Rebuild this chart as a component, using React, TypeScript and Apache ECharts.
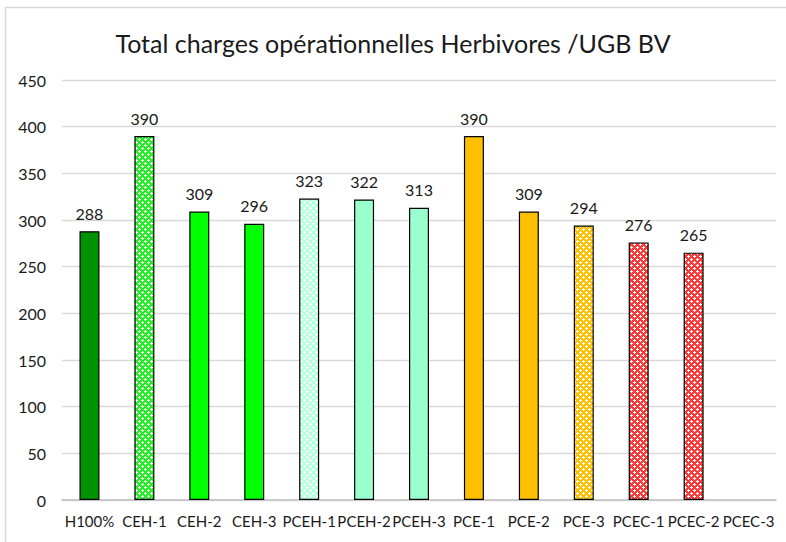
import React, { useEffect, useRef } from "react";
import * as echarts from "echarts";

const title = "Total charges opérationnelles Herbivores /UGB BV";
const categories = ["H100%", "CEH-1", "CEH-2", "CEH-3", "PCEH-1", "PCEH-2", "PCEH-3", "PCE-1", "PCE-2", "PCE-3", "PCEC-1", "PCEC-2", "PCEC-3"];
const values: (number | null)[] = [288, 390, 309, 296, 323, 322, 313, 390, 309, 294, 276, 265, null];
const barColors = ["#009300", "#22f022", "#00ff00", "#00ff00", "#b8ffdc", "#99ffcc", "#99ffcc", "#ffc000", "#ffc000", "#ffc000", "#ff3838", "#ff3838", "#ff3838"];
const patterned = [false, true, false, false, true, false, false, false, false, true, true, true, true];
const yTicks = { min: 0, max: 450, interval: 50 };

function makePattern(color: string) {
  const c = document.createElement("canvas");
  const s = 6;
  c.width = s;
  c.height = s;
  const ctx = c.getContext("2d")!;
  ctx.fillStyle = color;
  ctx.fillRect(0, 0, s, s);
  ctx.fillStyle = "#ffffff";
  const plus = (x: number, y: number) => {
    ctx.fillRect(x, y - 1, 1, 3);
    ctx.fillRect(x - 1, y, 3, 1);
  };
  plus(1, 1);
  plus(4, 4);
  plus(7, 1);
  plus(-2, 4);
  plus(1, 7);
  plus(4, -2);
  return { image: c, repeat: "repeat" as const };
}

export default function App() {
  const ref = useRef<HTMLDivElement>(null);
  useEffect(() => {
    document.body.style.margin = "0";
    const chart = echarts.init(ref.current!, null, { renderer: "svg" });
    const data = values.map((v, i) => ({
      value: v,
      itemStyle: {
        color: patterned[i] ? (makePattern(barColors[i]) as any) : barColors[i],
        borderColor: "#000000",
        borderWidth: 1.2,
      },
    }));
    chart.setOption({
      animation: false,
      backgroundColor: "#ffffff",
      textStyle: { fontFamily: "Lato" },
      title: {
        text: title,
        left: "center",
        top: 25,
        textStyle: { fontFamily: "Lato", fontSize: 25, fontWeight: "normal", color: "#1a1a1a" },
      },
      graphic: [
        { type: "line", shape: { x1: 5.5, y1: 7, x2: 5.5, y2: 542 }, style: { stroke: "#d9d9d9", lineWidth: 1.5 } },
        { type: "line", shape: { x1: 5, y1: 7.5, x2: 786, y2: 7.5 }, style: { stroke: "#d9d9d9", lineWidth: 1.5 } },
      ],
      grid: { left: 62, right: 10, top: 80, bottom: 42, containLabel: false },
      xAxis: {
        type: "category",
        data: categories,
        axisTick: { show: false },
        axisLine: { show: true, lineStyle: { color: "#bfbfbf", width: 1.5 } },
        axisLabel: { color: "#1a1a1a", fontSize: 15, margin: 13, interval: 0, fontFamily: "Lato" },
      },
      yAxis: {
        type: "value",
        min: yTicks.min,
        max: yTicks.max,
        interval: yTicks.interval,
        axisLine: { show: false },
        axisTick: { show: false },
        splitLine: { lineStyle: { color: "#d9d9d9", width: 1.3 } },
        axisLabel: { color: "#1a1a1a", fontSize: 16, margin: 16, fontFamily: "Lato" },
      },
      series: [
        {
          type: "bar",
          data,
          barWidth: 20,
          label: {
            show: true,
            position: "top",
            distance: 10,
            color: "#1a1a1a",
            fontSize: 16,
            fontFamily: "Lato",
          },
        },
      ],
    });
    return () => chart.dispose();
  }, []);
  return <div ref={ref} style={{ width: 786, height: 542 }} />;
}
